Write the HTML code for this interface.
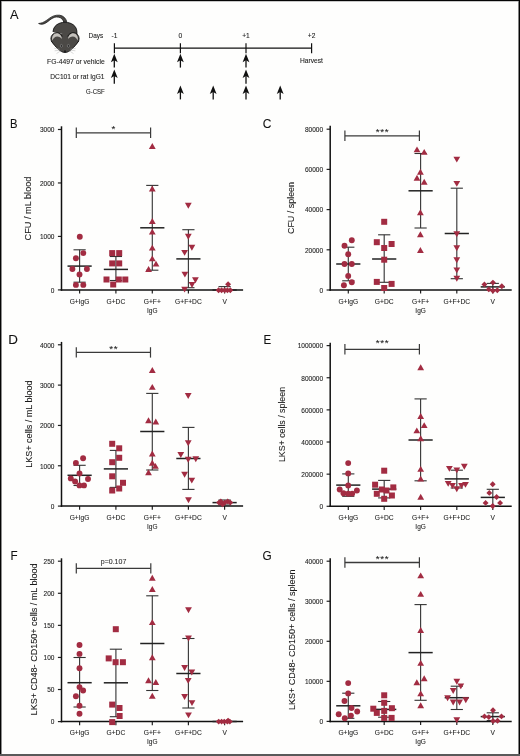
<!DOCTYPE html>
<html><head><meta charset="utf-8"><title>Figure</title>
<style>
html,body{margin:0;padding:0;background:#fff;}
body{width:520px;height:756px;overflow:hidden;}
svg{display:block;font-family:"Liberation Sans", sans-serif;will-change:transform;}
text{stroke:#1a1a1a;stroke-width:0.09px;}
</style></head>
<body>
<svg width="520" height="756" viewBox="0 0 520 756">
<rect x="0" y="0" width="520" height="756" fill="#fefefd"/>
<text x="10" y="18.8" font-size="12.8" text-anchor="start" fill="#111" >A</text>
<g>
<path d="M38.6 23.5 C40.6 24.8 43.2 24.5 45.8 23 C48.4 21.4 51.2 18.4 54.3 17.4 C57.2 16.6 60.4 17 62.4 19.4 C63 20.2 63.4 21 63.7 22 L66.8 21.8 C66 18.6 63.6 15.7 59.6 15.2 C55.6 14.8 52.2 16.1 49.2 18.4 C46.2 20.7 43.2 22.8 40.4 23.2 Z" fill="#4b4946" stroke="#111" stroke-width="0.7" stroke-linejoin="round"/>
<path d="M53.1 32 C53.1 26 58.5 22.3 65 22.3 C71.5 22.3 76.9 26 76.9 32 L77 37" fill="#4b4946" stroke="#111" stroke-width="0.9"/>
<rect x="58" y="34" width="14" height="8" fill="#4b4946"/>
<circle cx="56.8" cy="38.6" r="5.9" fill="#4b4946" stroke="#111" stroke-width="0.9"/>
<circle cx="73.2" cy="38.6" r="5.9" fill="#4b4946" stroke="#111" stroke-width="0.9"/>
<path d="M51.6 41.4 C53.6 44.4 55.8 47 58.4 49.3 C60.4 51.1 62.6 52.5 65 52.5 C67.4 52.5 69.6 51.1 71.6 49.3 C74.2 47 76.4 44.4 78.4 41.4 L68 36.6 L62 36.6 Z" fill="#4b4946"/>
<path d="M51.4 41.1 C53.6 44.4 55.8 47 58.4 49.3 C60.4 51.1 62.6 52.5 65 52.5 C67.4 52.5 69.6 51.1 71.6 49.3 C74.2 47 76.4 44.4 78.6 41.1" fill="none" stroke="#111" stroke-width="0.9"/>
<path d="M52.2 40.6 C51.5 36.5 53.6 33.3 56.8 33.2 C59.5 33.2 61.6 35.5 62 39 C60.9 37.4 59.2 36.4 57.2 36.4 C55 36.4 53.2 38.1 52.2 40.6 Z" fill="#c4c1bc"/>
<path d="M77.8 40.6 C78.5 36.5 76.4 33.3 73.2 33.2 C70.5 33.2 68.4 35.5 68 39 C69.1 37.4 70.8 36.4 72.8 36.4 C75 36.4 76.8 38.1 77.8 40.6 Z" fill="#c4c1bc"/>
<ellipse cx="61.4" cy="45.9" rx="1.05" ry="1.5" fill="#262626" stroke="#9a9a9a" stroke-width="0.5"/>
<ellipse cx="68.4" cy="45.9" rx="1.05" ry="1.5" fill="#262626" stroke="#9a9a9a" stroke-width="0.5"/>
<circle cx="65" cy="51.2" r="0.85" fill="#111"/>
<line x1="59.5" y1="49.2" x2="54.3" y2="48.2" stroke="#b5b5b5" stroke-width="0.5"/>
<line x1="59.8" y1="50.2" x2="54.6" y2="50.8" stroke="#b5b5b5" stroke-width="0.5"/>
<line x1="60.4" y1="51" x2="56.5" y2="53.6" stroke="#b5b5b5" stroke-width="0.5"/>
<line x1="70.5" y1="49.2" x2="75.7" y2="48.2" stroke="#b5b5b5" stroke-width="0.5"/>
<line x1="70.2" y1="50.2" x2="75.4" y2="50.8" stroke="#b5b5b5" stroke-width="0.5"/>
<line x1="69.6" y1="51" x2="73.5" y2="53.6" stroke="#b5b5b5" stroke-width="0.5"/>
</g>
<line x1="114.4" y1="48.1" x2="311.6" y2="48.1" stroke="#111" stroke-width="1.3"/>
<line x1="114.4" y1="43.2" x2="114.4" y2="53.3" stroke="#111" stroke-width="1.2"/>
<line x1="180.4" y1="43.2" x2="180.4" y2="53.3" stroke="#111" stroke-width="1.2"/>
<line x1="246" y1="43.2" x2="246" y2="53.3" stroke="#111" stroke-width="1.2"/>
<line x1="311.6" y1="43.2" x2="311.6" y2="53.3" stroke="#111" stroke-width="1.2"/>
<text x="0" y="0" font-size="7.0" text-anchor="middle" fill="#222" transform="translate(95.9,37.7) scale(0.92,1)" >Days</text>
<text x="0" y="0" font-size="7.0" text-anchor="middle" fill="#222" transform="translate(114.4,37.7) scale(0.95,1)" >-1</text>
<text x="0" y="0" font-size="7.0" text-anchor="middle" fill="#222" transform="translate(180.4,37.7) scale(0.95,1)" >0</text>
<text x="0" y="0" font-size="7.0" text-anchor="middle" fill="#222" transform="translate(246,37.7) scale(0.95,1)" >+1</text>
<text x="0" y="0" font-size="7.0" text-anchor="middle" fill="#222" transform="translate(311.6,37.7) scale(0.95,1)" >+2</text>
<text x="0" y="0" font-size="7.1" text-anchor="middle" fill="#222" transform="translate(311.5,63.2) scale(0.94,1)" >Harvest</text>
<text x="0" y="0" font-size="7.1" text-anchor="end" fill="#222" transform="translate(104.7,63.5) scale(0.956,1)" >FG-4497 or vehicle</text>
<text x="0" y="0" font-size="7.1" text-anchor="end" fill="#222" transform="translate(104.5,78.9) scale(0.936,1)" >DC101 or rat IgG1</text>
<text x="0" y="0" font-size="7.1" text-anchor="end" fill="#222" transform="translate(104.7,94.3) scale(0.85,1)" >G-CSF</text>
<path d="M114.3 53.8 L117.7 62.2 L114.3 60.2 L110.9 62.2 Z" fill="#111"/>
<line x1="114.3" y1="57.8" x2="114.3" y2="67.6" stroke="#111" stroke-width="1.3"/>
<path d="M180.4 53.8 L183.8 62.2 L180.4 60.2 L177 62.2 Z" fill="#111"/>
<line x1="180.4" y1="57.8" x2="180.4" y2="67.6" stroke="#111" stroke-width="1.3"/>
<path d="M246 53.8 L249.4 62.2 L246 60.2 L242.6 62.2 Z" fill="#111"/>
<line x1="246" y1="57.8" x2="246" y2="67.6" stroke="#111" stroke-width="1.3"/>
<path d="M114.3 69.5 L117.7 77.9 L114.3 75.9 L110.9 77.9 Z" fill="#111"/>
<line x1="114.3" y1="73.5" x2="114.3" y2="83.8" stroke="#111" stroke-width="1.3"/>
<path d="M246 69.5 L249.4 77.9 L246 75.9 L242.6 77.9 Z" fill="#111"/>
<line x1="246" y1="73.5" x2="246" y2="83.8" stroke="#111" stroke-width="1.3"/>
<path d="M180.4 85.5 L183.8 93.9 L180.4 91.9 L177 93.9 Z" fill="#111"/>
<line x1="180.4" y1="89.5" x2="180.4" y2="99.4" stroke="#111" stroke-width="1.3"/>
<path d="M213.2 85.5 L216.6 93.9 L213.2 91.9 L209.8 93.9 Z" fill="#111"/>
<line x1="213.2" y1="89.5" x2="213.2" y2="99.4" stroke="#111" stroke-width="1.3"/>
<path d="M246 85.5 L249.4 93.9 L246 91.9 L242.6 93.9 Z" fill="#111"/>
<line x1="246" y1="89.5" x2="246" y2="99.4" stroke="#111" stroke-width="1.3"/>
<path d="M280.2 85.5 L283.6 93.9 L280.2 91.9 L276.8 93.9 Z" fill="#111"/>
<line x1="280.2" y1="89.5" x2="280.2" y2="99.4" stroke="#111" stroke-width="1.3"/>
<text x="0" y="0" font-size="13.4" text-anchor="start" fill="#111" transform="translate(10,128.3) scale(0.84,1)" >B</text>
<text x="0" y="0" font-size="9.7" text-anchor="middle" fill="#1a1a1a" transform="translate(31,208.5) rotate(-90) scale(0.947,1)">CFU / mL blood</text>
<line x1="57.9" y1="289.9" x2="61.5" y2="289.9" stroke="#222" stroke-width="1.2"/>
<text x="0" y="0" font-size="7.3" text-anchor="end" fill="#222" transform="translate(54.4,292.75) scale(0.895,1)" >0</text>
<line x1="57.9" y1="236.43" x2="61.5" y2="236.43" stroke="#222" stroke-width="1.2"/>
<text x="0" y="0" font-size="7.3" text-anchor="end" fill="#222" transform="translate(54.4,239.28) scale(0.895,1)" >1000</text>
<line x1="57.9" y1="182.96" x2="61.5" y2="182.96" stroke="#222" stroke-width="1.2"/>
<text x="0" y="0" font-size="7.3" text-anchor="end" fill="#222" transform="translate(54.4,185.81) scale(0.895,1)" >2000</text>
<line x1="57.9" y1="129.49" x2="61.5" y2="129.49" stroke="#222" stroke-width="1.2"/>
<text x="0" y="0" font-size="7.3" text-anchor="end" fill="#222" transform="translate(54.4,132.34) scale(0.895,1)" >3000</text>
<line x1="79.6" y1="289.9" x2="79.6" y2="293.5" stroke="#222" stroke-width="1.2"/>
<line x1="115.9" y1="289.9" x2="115.9" y2="293.5" stroke="#222" stroke-width="1.2"/>
<line x1="152.3" y1="289.9" x2="152.3" y2="293.5" stroke="#222" stroke-width="1.2"/>
<line x1="188.4" y1="289.9" x2="188.4" y2="293.5" stroke="#222" stroke-width="1.2"/>
<line x1="224.6" y1="289.9" x2="224.6" y2="293.5" stroke="#222" stroke-width="1.2"/>
<text x="0" y="0" font-size="7.5" text-anchor="middle" fill="#222" transform="translate(79.6,303.7) scale(0.89,1)" >G+IgG</text>
<text x="0" y="0" font-size="7.5" text-anchor="middle" fill="#222" transform="translate(115.9,303.7) scale(0.89,1)" >G+DC</text>
<text x="0" y="0" font-size="7.5" text-anchor="middle" fill="#222" transform="translate(152.3,303.7) scale(0.895,1)" >G+F+</text>
<text x="0" y="0" font-size="7.5" text-anchor="middle" fill="#222" transform="translate(152.3,312.7) scale(0.87,1)" >IgG</text>
<text x="0" y="0" font-size="7.5" text-anchor="middle" fill="#222" transform="translate(188.4,303.7) scale(0.89,1)" >G+F+DC</text>
<text x="0" y="0" font-size="7.5" text-anchor="middle" fill="#222" transform="translate(224.6,303.7) scale(0.89,1)" >V</text>
<line x1="61.5" y1="126.3" x2="61.5" y2="290.65" stroke="#111" stroke-width="1.5"/>
<line x1="60.75" y1="289.9" x2="243.1" y2="289.9" stroke="#111" stroke-width="1.5"/>
<line x1="79.6" y1="249.8" x2="79.6" y2="282.2" stroke="#3a3a3a" stroke-width="1.15"/>
<line x1="73.5" y1="249.8" x2="85.7" y2="249.8" stroke="#333" stroke-width="1.1"/>
<line x1="73.5" y1="282.2" x2="85.7" y2="282.2" stroke="#333" stroke-width="1.1"/>
<line x1="67.5" y1="266.1" x2="91.7" y2="266.1" stroke="#222" stroke-width="1.5"/>
<line x1="115.9" y1="256.5" x2="115.9" y2="280.5" stroke="#3a3a3a" stroke-width="1.15"/>
<line x1="109.8" y1="256.5" x2="122" y2="256.5" stroke="#333" stroke-width="1.1"/>
<line x1="109.8" y1="280.5" x2="122" y2="280.5" stroke="#333" stroke-width="1.1"/>
<line x1="103.8" y1="269.4" x2="128" y2="269.4" stroke="#222" stroke-width="1.5"/>
<line x1="152.3" y1="185.4" x2="152.3" y2="270.2" stroke="#3a3a3a" stroke-width="1.15"/>
<line x1="146.2" y1="185.4" x2="158.4" y2="185.4" stroke="#333" stroke-width="1.1"/>
<line x1="146.2" y1="270.2" x2="158.4" y2="270.2" stroke="#333" stroke-width="1.1"/>
<line x1="140.2" y1="227.8" x2="164.4" y2="227.8" stroke="#222" stroke-width="1.5"/>
<line x1="188.4" y1="229.7" x2="188.4" y2="287.7" stroke="#3a3a3a" stroke-width="1.15"/>
<line x1="182.3" y1="229.7" x2="194.5" y2="229.7" stroke="#333" stroke-width="1.1"/>
<line x1="182.3" y1="287.7" x2="194.5" y2="287.7" stroke="#333" stroke-width="1.1"/>
<line x1="176.3" y1="258.9" x2="200.5" y2="258.9" stroke="#222" stroke-width="1.5"/>
<line x1="224.6" y1="286.6" x2="224.6" y2="290" stroke="#3a3a3a" stroke-width="1.15"/>
<line x1="218.5" y1="286.6" x2="230.7" y2="286.6" stroke="#333" stroke-width="1.1"/>
<line x1="218.5" y1="290" x2="230.7" y2="290" stroke="#333" stroke-width="1.1"/>
<line x1="212.5" y1="290" x2="236.7" y2="290" stroke="#222" stroke-width="1.5"/>
<circle cx="79.8" cy="236.7" r="2.95" fill="#a22c42"/>
<circle cx="83.3" cy="253.1" r="2.95" fill="#a22c42"/>
<circle cx="75.9" cy="258.3" r="2.95" fill="#a22c42"/>
<circle cx="72.4" cy="269" r="2.95" fill="#a22c42"/>
<circle cx="86.9" cy="269" r="2.95" fill="#a22c42"/>
<circle cx="79.5" cy="274.4" r="2.95" fill="#a22c42"/>
<circle cx="75.9" cy="284.9" r="2.95" fill="#a22c42"/>
<circle cx="83.3" cy="284.9" r="2.95" fill="#a22c42"/>
<rect x="109.2" y="250.1" width="6.0" height="6.0" fill="#a22c42"/>
<rect x="116.2" y="250.1" width="6.0" height="6.0" fill="#a22c42"/>
<rect x="109.2" y="260.4" width="6.0" height="6.0" fill="#a22c42"/>
<rect x="116.2" y="260.4" width="6.0" height="6.0" fill="#a22c42"/>
<rect x="103.5" y="276.5" width="6.0" height="6.0" fill="#a22c42"/>
<rect x="115.8" y="276.5" width="6.0" height="6.0" fill="#a22c42"/>
<rect x="122.3" y="276.5" width="6.0" height="6.0" fill="#a22c42"/>
<rect x="110.2" y="281.5" width="6.0" height="6.0" fill="#a22c42"/>
<path d="M152.3 143.05L155.7 148.95L148.9 148.95Z" fill="#a22c42"/>
<path d="M152.3 185.55L155.7 191.45L148.9 191.45Z" fill="#a22c42"/>
<path d="M152.3 218.05L155.7 223.95L148.9 223.95Z" fill="#a22c42"/>
<path d="M152.3 228.65L155.7 234.55L148.9 234.55Z" fill="#a22c42"/>
<path d="M152.3 244.65L155.7 250.55L148.9 250.55Z" fill="#a22c42"/>
<path d="M152.3 255.45L155.7 261.35L148.9 261.35Z" fill="#a22c42"/>
<path d="M156 260.65L159.4 266.55L152.6 266.55Z" fill="#a22c42"/>
<path d="M148.6 266.05L152 271.95L145.2 271.95Z" fill="#a22c42"/>
<path d="M184.9 202.75L191.7 202.75L188.3 208.65Z" fill="#a22c42"/>
<path d="M184.9 233.75L191.7 233.75L188.3 239.65Z" fill="#a22c42"/>
<path d="M188.5 244.75L195.3 244.75L191.9 250.65Z" fill="#a22c42"/>
<path d="M181.2 249.95L188 249.95L184.6 255.85Z" fill="#a22c42"/>
<path d="M181.5 271.65L188.3 271.65L184.9 277.55Z" fill="#a22c42"/>
<path d="M192 277.25L198.8 277.25L195.4 283.15Z" fill="#a22c42"/>
<path d="M188.6 282.05L195.4 282.05L192 287.95Z" fill="#a22c42"/>
<path d="M181.2 286.65L188 286.65L184.6 292.55Z" fill="#a22c42"/>
<path d="M218.6 287.25L221.55 290.2L218.6 293.15L215.65 290.2Z" fill="#a22c42"/>
<path d="M221.6 287.35L224.55 290.3L221.6 293.25L218.65 290.3Z" fill="#a22c42"/>
<path d="M224.6 287.35L227.55 290.3L224.6 293.25L221.65 290.3Z" fill="#a22c42"/>
<path d="M227.4 287.25L230.35 290.2L227.4 293.15L224.45 290.2Z" fill="#a22c42"/>
<path d="M230.3 287.25L233.25 290.2L230.3 293.15L227.35 290.2Z" fill="#a22c42"/>
<path d="M228.1 281.35L231.05 284.3L228.1 287.25L225.15 284.3Z" fill="#a22c42"/>
<line x1="76.3" y1="132.8" x2="150.6" y2="132.8" stroke="#3a3a3a" stroke-width="1.3"/>
<line x1="76.3" y1="127.6" x2="76.3" y2="138" stroke="#3a3a3a" stroke-width="1.2"/>
<line x1="150.6" y1="127.6" x2="150.6" y2="138" stroke="#3a3a3a" stroke-width="1.2"/>
<text x="113.85" y="132.1" font-size="9.8" text-anchor="middle" fill="#222" letter-spacing="0.75">*</text>
<text x="0" y="0" font-size="13.4" text-anchor="start" fill="#111" transform="translate(262.8,128.4) scale(0.9,1)" >C</text>
<text x="0" y="0" font-size="9.7" text-anchor="middle" fill="#1a1a1a" transform="translate(293.7,208) rotate(-90) scale(0.921,1)">CFU / spleen</text>
<line x1="326.6" y1="290" x2="330.2" y2="290" stroke="#222" stroke-width="1.2"/>
<text x="0" y="0" font-size="7.3" text-anchor="end" fill="#222" transform="translate(323.1,292.85) scale(0.895,1)" >0</text>
<line x1="326.6" y1="249.8" x2="330.2" y2="249.8" stroke="#222" stroke-width="1.2"/>
<text x="0" y="0" font-size="7.3" text-anchor="end" fill="#222" transform="translate(323.1,252.65) scale(0.895,1)" >20000</text>
<line x1="326.6" y1="209.6" x2="330.2" y2="209.6" stroke="#222" stroke-width="1.2"/>
<text x="0" y="0" font-size="7.3" text-anchor="end" fill="#222" transform="translate(323.1,212.45) scale(0.895,1)" >40000</text>
<line x1="326.6" y1="169.4" x2="330.2" y2="169.4" stroke="#222" stroke-width="1.2"/>
<text x="0" y="0" font-size="7.3" text-anchor="end" fill="#222" transform="translate(323.1,172.25) scale(0.895,1)" >60000</text>
<line x1="326.6" y1="129.2" x2="330.2" y2="129.2" stroke="#222" stroke-width="1.2"/>
<text x="0" y="0" font-size="7.3" text-anchor="end" fill="#222" transform="translate(323.1,132.05) scale(0.895,1)" >80000</text>
<line x1="348.3" y1="290" x2="348.3" y2="293.6" stroke="#222" stroke-width="1.2"/>
<line x1="384.2" y1="290" x2="384.2" y2="293.6" stroke="#222" stroke-width="1.2"/>
<line x1="420.6" y1="290" x2="420.6" y2="293.6" stroke="#222" stroke-width="1.2"/>
<line x1="456.8" y1="290" x2="456.8" y2="293.6" stroke="#222" stroke-width="1.2"/>
<line x1="492.8" y1="290" x2="492.8" y2="293.6" stroke="#222" stroke-width="1.2"/>
<text x="0" y="0" font-size="7.5" text-anchor="middle" fill="#222" transform="translate(348.3,303.8) scale(0.89,1)" >G+IgG</text>
<text x="0" y="0" font-size="7.5" text-anchor="middle" fill="#222" transform="translate(384.2,303.8) scale(0.89,1)" >G+DC</text>
<text x="0" y="0" font-size="7.5" text-anchor="middle" fill="#222" transform="translate(420.6,303.8) scale(0.895,1)" >G+F+</text>
<text x="0" y="0" font-size="7.5" text-anchor="middle" fill="#222" transform="translate(420.6,312.8) scale(0.87,1)" >IgG</text>
<text x="0" y="0" font-size="7.5" text-anchor="middle" fill="#222" transform="translate(456.8,303.8) scale(0.89,1)" >G+F+DC</text>
<text x="0" y="0" font-size="7.5" text-anchor="middle" fill="#222" transform="translate(492.8,303.8) scale(0.89,1)" >V</text>
<line x1="330.2" y1="125.8" x2="330.2" y2="290.75" stroke="#111" stroke-width="1.5"/>
<line x1="329.45" y1="290" x2="511.7" y2="290" stroke="#111" stroke-width="1.5"/>
<line x1="348.3" y1="247.2" x2="348.3" y2="280.8" stroke="#3a3a3a" stroke-width="1.15"/>
<line x1="342.2" y1="247.2" x2="354.4" y2="247.2" stroke="#333" stroke-width="1.1"/>
<line x1="342.2" y1="280.8" x2="354.4" y2="280.8" stroke="#333" stroke-width="1.1"/>
<line x1="336.2" y1="264" x2="360.4" y2="264" stroke="#222" stroke-width="1.5"/>
<line x1="384.2" y1="234.8" x2="384.2" y2="282.3" stroke="#3a3a3a" stroke-width="1.15"/>
<line x1="378.1" y1="234.8" x2="390.3" y2="234.8" stroke="#333" stroke-width="1.1"/>
<line x1="378.1" y1="282.3" x2="390.3" y2="282.3" stroke="#333" stroke-width="1.1"/>
<line x1="372.1" y1="259" x2="396.3" y2="259" stroke="#222" stroke-width="1.5"/>
<line x1="420.6" y1="153.5" x2="420.6" y2="228" stroke="#3a3a3a" stroke-width="1.15"/>
<line x1="414.5" y1="153.5" x2="426.7" y2="153.5" stroke="#333" stroke-width="1.1"/>
<line x1="414.5" y1="228" x2="426.7" y2="228" stroke="#333" stroke-width="1.1"/>
<line x1="408.5" y1="190.8" x2="432.7" y2="190.8" stroke="#222" stroke-width="1.5"/>
<line x1="456.8" y1="188.2" x2="456.8" y2="278.7" stroke="#3a3a3a" stroke-width="1.15"/>
<line x1="450.7" y1="188.2" x2="462.9" y2="188.2" stroke="#333" stroke-width="1.1"/>
<line x1="450.7" y1="278.7" x2="462.9" y2="278.7" stroke="#333" stroke-width="1.1"/>
<line x1="444.7" y1="233.5" x2="468.9" y2="233.5" stroke="#222" stroke-width="1.5"/>
<line x1="492.8" y1="283.4" x2="492.8" y2="290" stroke="#3a3a3a" stroke-width="1.15"/>
<line x1="486.7" y1="283.4" x2="498.9" y2="283.4" stroke="#333" stroke-width="1.1"/>
<line x1="486.7" y1="290" x2="498.9" y2="290" stroke="#333" stroke-width="1.1"/>
<line x1="480.7" y1="286.9" x2="504.9" y2="286.9" stroke="#222" stroke-width="1.5"/>
<circle cx="351.8" cy="240.2" r="2.95" fill="#a22c42"/>
<circle cx="344.5" cy="245.8" r="2.95" fill="#a22c42"/>
<circle cx="348.2" cy="254.3" r="2.95" fill="#a22c42"/>
<circle cx="344.5" cy="264" r="2.95" fill="#a22c42"/>
<circle cx="351.8" cy="264" r="2.95" fill="#a22c42"/>
<circle cx="348.2" cy="275.9" r="2.95" fill="#a22c42"/>
<circle cx="351.8" cy="282.2" r="2.95" fill="#a22c42"/>
<circle cx="343.9" cy="285.3" r="2.95" fill="#a22c42"/>
<rect x="381.2" y="218.8" width="6.0" height="6.0" fill="#a22c42"/>
<rect x="373.8" y="239.2" width="6.0" height="6.0" fill="#a22c42"/>
<rect x="388.6" y="241" width="6.0" height="6.0" fill="#a22c42"/>
<rect x="381.2" y="245" width="6.0" height="6.0" fill="#a22c42"/>
<rect x="381.2" y="256.7" width="6.0" height="6.0" fill="#a22c42"/>
<rect x="373.8" y="278.9" width="6.0" height="6.0" fill="#a22c42"/>
<rect x="388.6" y="280.9" width="6.0" height="6.0" fill="#a22c42"/>
<rect x="381.2" y="285" width="6.0" height="6.0" fill="#a22c42"/>
<path d="M417 146.45L420.4 152.35L413.6 152.35Z" fill="#a22c42"/>
<path d="M424.2 148.95L427.6 154.85L420.8 154.85Z" fill="#a22c42"/>
<path d="M420.4 168.85L423.8 174.75L417 174.75Z" fill="#a22c42"/>
<path d="M417 174.85L420.4 180.75L413.6 180.75Z" fill="#a22c42"/>
<path d="M424.2 178.75L427.6 184.65L420.8 184.65Z" fill="#a22c42"/>
<path d="M420.4 209.25L423.8 215.15L417 215.15Z" fill="#a22c42"/>
<path d="M420.4 231.25L423.8 237.15L417 237.15Z" fill="#a22c42"/>
<path d="M420.4 247.05L423.8 252.95L417 252.95Z" fill="#a22c42"/>
<path d="M453.4 156.65L460.2 156.65L456.8 162.55Z" fill="#a22c42"/>
<path d="M453.4 180.95L460.2 180.95L456.8 186.85Z" fill="#a22c42"/>
<path d="M453.4 231.25L460.2 231.25L456.8 237.15Z" fill="#a22c42"/>
<path d="M453.4 245.25L460.2 245.25L456.8 251.15Z" fill="#a22c42"/>
<path d="M453.4 257.35L460.2 257.35L456.8 263.25Z" fill="#a22c42"/>
<path d="M453.4 267.45L460.2 267.45L456.8 273.35Z" fill="#a22c42"/>
<path d="M453.4 275.85L460.2 275.85L456.8 281.75Z" fill="#a22c42"/>
<path d="M484.4 281.45L487.35 284.4L484.4 287.35L481.45 284.4Z" fill="#a22c42"/>
<path d="M492.9 279.65L495.85 282.6L492.9 285.55L489.95 282.6Z" fill="#a22c42"/>
<path d="M501.8 283.35L504.75 286.3L501.8 289.25L498.85 286.3Z" fill="#a22c42"/>
<path d="M488.8 286.45L491.75 289.4L488.8 292.35L485.85 289.4Z" fill="#a22c42"/>
<path d="M492.9 287.75L495.85 290.7L492.9 293.65L489.95 290.7Z" fill="#a22c42"/>
<path d="M497.3 287.35L500.25 290.3L497.3 293.25L494.35 290.3Z" fill="#a22c42"/>
<line x1="344.9" y1="135.8" x2="419.4" y2="135.8" stroke="#3a3a3a" stroke-width="1.3"/>
<line x1="344.9" y1="130.6" x2="344.9" y2="141" stroke="#3a3a3a" stroke-width="1.2"/>
<line x1="419.4" y1="130.6" x2="419.4" y2="141" stroke="#3a3a3a" stroke-width="1.2"/>
<text x="382.55" y="135.1" font-size="9.8" text-anchor="middle" fill="#222" letter-spacing="0.75">***</text>
<text x="8.2" y="343.8" font-size="13.4" text-anchor="start" fill="#111" >D</text>
<text x="0" y="0" font-size="9.7" text-anchor="middle" fill="#1a1a1a" transform="translate(31.8,424.1) rotate(-90) scale(0.935,1)">LKS+ cells / mL blood</text>
<line x1="57.9" y1="506.1" x2="61.5" y2="506.1" stroke="#222" stroke-width="1.2"/>
<text x="0" y="0" font-size="7.3" text-anchor="end" fill="#222" transform="translate(54.4,508.95) scale(0.895,1)" >0</text>
<line x1="57.9" y1="465.77" x2="61.5" y2="465.77" stroke="#222" stroke-width="1.2"/>
<text x="0" y="0" font-size="7.3" text-anchor="end" fill="#222" transform="translate(54.4,468.62) scale(0.895,1)" >1000</text>
<line x1="57.9" y1="425.44" x2="61.5" y2="425.44" stroke="#222" stroke-width="1.2"/>
<text x="0" y="0" font-size="7.3" text-anchor="end" fill="#222" transform="translate(54.4,428.29) scale(0.895,1)" >2000</text>
<line x1="57.9" y1="385.11" x2="61.5" y2="385.11" stroke="#222" stroke-width="1.2"/>
<text x="0" y="0" font-size="7.3" text-anchor="end" fill="#222" transform="translate(54.4,387.96) scale(0.895,1)" >3000</text>
<line x1="57.9" y1="344.78" x2="61.5" y2="344.78" stroke="#222" stroke-width="1.2"/>
<text x="0" y="0" font-size="7.3" text-anchor="end" fill="#222" transform="translate(54.4,347.63) scale(0.895,1)" >4000</text>
<line x1="79.6" y1="506.1" x2="79.6" y2="509.7" stroke="#222" stroke-width="1.2"/>
<line x1="115.9" y1="506.1" x2="115.9" y2="509.7" stroke="#222" stroke-width="1.2"/>
<line x1="152.3" y1="506.1" x2="152.3" y2="509.7" stroke="#222" stroke-width="1.2"/>
<line x1="188.4" y1="506.1" x2="188.4" y2="509.7" stroke="#222" stroke-width="1.2"/>
<line x1="224.6" y1="506.1" x2="224.6" y2="509.7" stroke="#222" stroke-width="1.2"/>
<text x="0" y="0" font-size="7.5" text-anchor="middle" fill="#222" transform="translate(79.6,519.9) scale(0.89,1)" >G+IgG</text>
<text x="0" y="0" font-size="7.5" text-anchor="middle" fill="#222" transform="translate(115.9,519.9) scale(0.89,1)" >G+DC</text>
<text x="0" y="0" font-size="7.5" text-anchor="middle" fill="#222" transform="translate(152.3,519.9) scale(0.895,1)" >G+F+</text>
<text x="0" y="0" font-size="7.5" text-anchor="middle" fill="#222" transform="translate(152.3,528.9) scale(0.87,1)" >IgG</text>
<text x="0" y="0" font-size="7.5" text-anchor="middle" fill="#222" transform="translate(188.4,519.9) scale(0.89,1)" >G+F+DC</text>
<text x="0" y="0" font-size="7.5" text-anchor="middle" fill="#222" transform="translate(224.6,519.9) scale(0.89,1)" >V</text>
<line x1="61.5" y1="341.9" x2="61.5" y2="506.85" stroke="#111" stroke-width="1.5"/>
<line x1="60.75" y1="506.1" x2="243.1" y2="506.1" stroke="#111" stroke-width="1.5"/>
<line x1="79.6" y1="465.3" x2="79.6" y2="485.5" stroke="#3a3a3a" stroke-width="1.15"/>
<line x1="73.5" y1="465.3" x2="85.7" y2="465.3" stroke="#333" stroke-width="1.1"/>
<line x1="73.5" y1="485.5" x2="85.7" y2="485.5" stroke="#333" stroke-width="1.1"/>
<line x1="67.5" y1="475.3" x2="91.7" y2="475.3" stroke="#222" stroke-width="1.5"/>
<line x1="115.9" y1="450.4" x2="115.9" y2="487.4" stroke="#3a3a3a" stroke-width="1.15"/>
<line x1="109.8" y1="450.4" x2="122" y2="450.4" stroke="#333" stroke-width="1.1"/>
<line x1="109.8" y1="487.4" x2="122" y2="487.4" stroke="#333" stroke-width="1.1"/>
<line x1="103.8" y1="468.9" x2="128" y2="468.9" stroke="#222" stroke-width="1.5"/>
<line x1="152.3" y1="393.4" x2="152.3" y2="470" stroke="#3a3a3a" stroke-width="1.15"/>
<line x1="146.2" y1="393.4" x2="158.4" y2="393.4" stroke="#333" stroke-width="1.1"/>
<line x1="146.2" y1="470" x2="158.4" y2="470" stroke="#333" stroke-width="1.1"/>
<line x1="140.2" y1="431.5" x2="164.4" y2="431.5" stroke="#222" stroke-width="1.5"/>
<line x1="188.4" y1="427.4" x2="188.4" y2="489.4" stroke="#3a3a3a" stroke-width="1.15"/>
<line x1="182.3" y1="427.4" x2="194.5" y2="427.4" stroke="#333" stroke-width="1.1"/>
<line x1="182.3" y1="489.4" x2="194.5" y2="489.4" stroke="#333" stroke-width="1.1"/>
<line x1="176.3" y1="458.5" x2="200.5" y2="458.5" stroke="#222" stroke-width="1.5"/>
<line x1="224.6" y1="500" x2="224.6" y2="505" stroke="#3a3a3a" stroke-width="1.15"/>
<line x1="218.5" y1="500" x2="230.7" y2="500" stroke="#333" stroke-width="1.1"/>
<line x1="218.5" y1="505" x2="230.7" y2="505" stroke="#333" stroke-width="1.1"/>
<line x1="212.5" y1="502.6" x2="236.7" y2="502.6" stroke="#222" stroke-width="1.5"/>
<circle cx="83.1" cy="458.2" r="2.95" fill="#a22c42"/>
<circle cx="75.9" cy="462.9" r="2.95" fill="#a22c42"/>
<circle cx="79.5" cy="473.4" r="2.95" fill="#a22c42"/>
<circle cx="70.8" cy="478.4" r="2.95" fill="#a22c42"/>
<circle cx="88" cy="479" r="2.95" fill="#a22c42"/>
<circle cx="75.1" cy="481.5" r="2.95" fill="#a22c42"/>
<circle cx="79.5" cy="485.4" r="2.95" fill="#a22c42"/>
<circle cx="84" cy="485.4" r="2.95" fill="#a22c42"/>
<rect x="109.2" y="440.8" width="6.0" height="6.0" fill="#a22c42"/>
<rect x="116.2" y="445.3" width="6.0" height="6.0" fill="#a22c42"/>
<rect x="116.2" y="454.8" width="6.0" height="6.0" fill="#a22c42"/>
<rect x="109.2" y="459.2" width="6.0" height="6.0" fill="#a22c42"/>
<rect x="109.2" y="473.3" width="6.0" height="6.0" fill="#a22c42"/>
<rect x="120" y="479.8" width="6.0" height="6.0" fill="#a22c42"/>
<rect x="116.2" y="485.5" width="6.0" height="6.0" fill="#a22c42"/>
<rect x="109.2" y="487.5" width="6.0" height="6.0" fill="#a22c42"/>
<path d="M152.3 367.05L155.7 372.95L148.9 372.95Z" fill="#a22c42"/>
<path d="M152.3 383.95L155.7 389.85L148.9 389.85Z" fill="#a22c42"/>
<path d="M148.5 417.25L151.9 423.15L145.1 423.15Z" fill="#a22c42"/>
<path d="M155.8 418.55L159.2 424.45L152.4 424.45Z" fill="#a22c42"/>
<path d="M152.3 450.55L155.7 456.45L148.9 456.45Z" fill="#a22c42"/>
<path d="M152.3 459.85L155.7 465.75L148.9 465.75Z" fill="#a22c42"/>
<path d="M155.4 462.95L158.8 468.85L152 468.85Z" fill="#a22c42"/>
<path d="M148.5 469.35L151.9 475.25L145.1 475.25Z" fill="#a22c42"/>
<path d="M184.8 393.05L191.6 393.05L188.2 398.95Z" fill="#a22c42"/>
<path d="M184.8 440.25L191.6 440.25L188.2 446.15Z" fill="#a22c42"/>
<path d="M177.4 452.05L184.2 452.05L180.8 457.95Z" fill="#a22c42"/>
<path d="M184.8 456.75L191.6 456.75L188.2 462.65Z" fill="#a22c42"/>
<path d="M192.4 456.25L199.2 456.25L195.8 462.15Z" fill="#a22c42"/>
<path d="M181.2 471.75L188 471.75L184.6 477.65Z" fill="#a22c42"/>
<path d="M188.4 477.65L195.2 477.65L191.8 483.55Z" fill="#a22c42"/>
<path d="M185.1 497.25L191.9 497.25L188.5 503.15Z" fill="#a22c42"/>
<path d="M219 499.65L221.95 502.6L219 505.55L216.05 502.6Z" fill="#a22c42"/>
<path d="M220.8 498.45L223.75 501.4L220.8 504.35L217.85 501.4Z" fill="#a22c42"/>
<path d="M222.6 501.45L225.55 504.4L222.6 507.35L219.65 504.4Z" fill="#a22c42"/>
<path d="M224.8 499.65L227.75 502.6L224.8 505.55L221.85 502.6Z" fill="#a22c42"/>
<path d="M227.7 498.45L230.65 501.4L227.7 504.35L224.75 501.4Z" fill="#a22c42"/>
<path d="M230.3 499.65L233.25 502.6L230.3 505.55L227.35 502.6Z" fill="#a22c42"/>
<line x1="76.3" y1="352.4" x2="150.5" y2="352.4" stroke="#3a3a3a" stroke-width="1.3"/>
<line x1="76.3" y1="347.2" x2="76.3" y2="357.6" stroke="#3a3a3a" stroke-width="1.2"/>
<line x1="150.5" y1="347.2" x2="150.5" y2="357.6" stroke="#3a3a3a" stroke-width="1.2"/>
<text x="113.8" y="351.7" font-size="9.8" text-anchor="middle" fill="#222" letter-spacing="0.75">**</text>
<text x="0" y="0" font-size="13.4" text-anchor="start" fill="#111" transform="translate(263.6,343.8) scale(0.86,1)" >E</text>
<text x="0" y="0" font-size="9.7" text-anchor="middle" fill="#1a1a1a" transform="translate(285.2,424.5) rotate(-90) scale(0.909,1)">LKS+ cells / spleen</text>
<line x1="326.6" y1="506.3" x2="330.2" y2="506.3" stroke="#222" stroke-width="1.2"/>
<text x="0" y="0" font-size="7.3" text-anchor="end" fill="#222" transform="translate(323.1,509.15) scale(0.895,1)" >0</text>
<line x1="326.6" y1="474.16" x2="330.2" y2="474.16" stroke="#222" stroke-width="1.2"/>
<text x="0" y="0" font-size="7.3" text-anchor="end" fill="#222" transform="translate(323.1,477.01) scale(0.895,1)" >200000</text>
<line x1="326.6" y1="442.02" x2="330.2" y2="442.02" stroke="#222" stroke-width="1.2"/>
<text x="0" y="0" font-size="7.3" text-anchor="end" fill="#222" transform="translate(323.1,444.87) scale(0.895,1)" >400000</text>
<line x1="326.6" y1="409.88" x2="330.2" y2="409.88" stroke="#222" stroke-width="1.2"/>
<text x="0" y="0" font-size="7.3" text-anchor="end" fill="#222" transform="translate(323.1,412.73) scale(0.895,1)" >600000</text>
<line x1="326.6" y1="377.74" x2="330.2" y2="377.74" stroke="#222" stroke-width="1.2"/>
<text x="0" y="0" font-size="7.3" text-anchor="end" fill="#222" transform="translate(323.1,380.59) scale(0.895,1)" >800000</text>
<line x1="326.6" y1="345.6" x2="330.2" y2="345.6" stroke="#222" stroke-width="1.2"/>
<text x="0" y="0" font-size="7.3" text-anchor="end" fill="#222" transform="translate(323.1,348.45) scale(0.895,1)" >1000000</text>
<line x1="348.3" y1="506.3" x2="348.3" y2="509.9" stroke="#222" stroke-width="1.2"/>
<line x1="384.2" y1="506.3" x2="384.2" y2="509.9" stroke="#222" stroke-width="1.2"/>
<line x1="420.6" y1="506.3" x2="420.6" y2="509.9" stroke="#222" stroke-width="1.2"/>
<line x1="456.8" y1="506.3" x2="456.8" y2="509.9" stroke="#222" stroke-width="1.2"/>
<line x1="492.8" y1="506.3" x2="492.8" y2="509.9" stroke="#222" stroke-width="1.2"/>
<text x="0" y="0" font-size="7.5" text-anchor="middle" fill="#222" transform="translate(348.3,520.1) scale(0.89,1)" >G+IgG</text>
<text x="0" y="0" font-size="7.5" text-anchor="middle" fill="#222" transform="translate(384.2,520.1) scale(0.89,1)" >G+DC</text>
<text x="0" y="0" font-size="7.5" text-anchor="middle" fill="#222" transform="translate(420.6,520.1) scale(0.895,1)" >G+F+</text>
<text x="0" y="0" font-size="7.5" text-anchor="middle" fill="#222" transform="translate(420.6,529.1) scale(0.87,1)" >IgG</text>
<text x="0" y="0" font-size="7.5" text-anchor="middle" fill="#222" transform="translate(456.8,520.1) scale(0.89,1)" >G+F+DC</text>
<text x="0" y="0" font-size="7.5" text-anchor="middle" fill="#222" transform="translate(492.8,520.1) scale(0.89,1)" >V</text>
<line x1="330.2" y1="342.7" x2="330.2" y2="507.05" stroke="#111" stroke-width="1.5"/>
<line x1="329.45" y1="506.3" x2="511.7" y2="506.3" stroke="#111" stroke-width="1.5"/>
<line x1="348.3" y1="473.9" x2="348.3" y2="496.3" stroke="#3a3a3a" stroke-width="1.15"/>
<line x1="342.2" y1="473.9" x2="354.4" y2="473.9" stroke="#333" stroke-width="1.1"/>
<line x1="342.2" y1="496.3" x2="354.4" y2="496.3" stroke="#333" stroke-width="1.1"/>
<line x1="336.2" y1="485.1" x2="360.4" y2="485.1" stroke="#222" stroke-width="1.5"/>
<line x1="384.2" y1="480.4" x2="384.2" y2="497.9" stroke="#3a3a3a" stroke-width="1.15"/>
<line x1="378.1" y1="480.4" x2="390.3" y2="480.4" stroke="#333" stroke-width="1.1"/>
<line x1="378.1" y1="497.9" x2="390.3" y2="497.9" stroke="#333" stroke-width="1.1"/>
<line x1="372.1" y1="489.1" x2="396.3" y2="489.1" stroke="#222" stroke-width="1.5"/>
<line x1="420.6" y1="398.9" x2="420.6" y2="480.8" stroke="#3a3a3a" stroke-width="1.15"/>
<line x1="414.5" y1="398.9" x2="426.7" y2="398.9" stroke="#333" stroke-width="1.1"/>
<line x1="414.5" y1="480.8" x2="426.7" y2="480.8" stroke="#333" stroke-width="1.1"/>
<line x1="408.5" y1="440" x2="432.7" y2="440" stroke="#222" stroke-width="1.5"/>
<line x1="456.8" y1="470.2" x2="456.8" y2="488" stroke="#3a3a3a" stroke-width="1.15"/>
<line x1="450.7" y1="470.2" x2="462.9" y2="470.2" stroke="#333" stroke-width="1.1"/>
<line x1="450.7" y1="488" x2="462.9" y2="488" stroke="#333" stroke-width="1.1"/>
<line x1="444.7" y1="478.9" x2="468.9" y2="478.9" stroke="#222" stroke-width="1.5"/>
<line x1="492.8" y1="489.3" x2="492.8" y2="506" stroke="#3a3a3a" stroke-width="1.15"/>
<line x1="486.7" y1="489.3" x2="498.9" y2="489.3" stroke="#333" stroke-width="1.1"/>
<line x1="486.7" y1="506" x2="498.9" y2="506" stroke="#333" stroke-width="1.1"/>
<line x1="480.7" y1="497.4" x2="504.9" y2="497.4" stroke="#222" stroke-width="1.5"/>
<circle cx="348.2" cy="463.1" r="2.95" fill="#a22c42"/>
<circle cx="348.2" cy="473.4" r="2.95" fill="#a22c42"/>
<circle cx="348.2" cy="485.5" r="2.95" fill="#a22c42"/>
<circle cx="339.7" cy="489.5" r="2.95" fill="#a22c42"/>
<circle cx="356.9" cy="490.5" r="2.95" fill="#a22c42"/>
<circle cx="343.5" cy="493.2" r="2.95" fill="#a22c42"/>
<circle cx="348.2" cy="493.8" r="2.95" fill="#a22c42"/>
<circle cx="352.2" cy="493.6" r="2.95" fill="#a22c42"/>
<rect x="381.2" y="467.7" width="6.0" height="6.0" fill="#a22c42"/>
<rect x="372.1" y="481.7" width="6.0" height="6.0" fill="#a22c42"/>
<rect x="390.3" y="484.4" width="6.0" height="6.0" fill="#a22c42"/>
<rect x="378.8" y="486.5" width="6.0" height="6.0" fill="#a22c42"/>
<rect x="383.5" y="487.5" width="6.0" height="6.0" fill="#a22c42"/>
<rect x="373.8" y="490.8" width="6.0" height="6.0" fill="#a22c42"/>
<rect x="388.9" y="492.5" width="6.0" height="6.0" fill="#a22c42"/>
<rect x="381.2" y="495.8" width="6.0" height="6.0" fill="#a22c42"/>
<path d="M420.7 364.25L424.1 370.15L417.3 370.15Z" fill="#a22c42"/>
<path d="M420.7 413.05L424.1 418.95L417.3 418.95Z" fill="#a22c42"/>
<path d="M424.2 422.15L427.6 428.05L420.8 428.05Z" fill="#a22c42"/>
<path d="M416.8 427.45L420.2 433.35L413.4 433.35Z" fill="#a22c42"/>
<path d="M420.7 435.35L424.1 441.25L417.3 441.25Z" fill="#a22c42"/>
<path d="M420.7 465.95L424.1 471.85L417.3 471.85Z" fill="#a22c42"/>
<path d="M420.7 475.65L424.1 481.55L417.3 481.55Z" fill="#a22c42"/>
<path d="M420.7 493.85L424.1 499.75L417.3 499.75Z" fill="#a22c42"/>
<path d="M446 465.95L452.8 465.95L449.4 471.85Z" fill="#a22c42"/>
<path d="M453.4 467.45L460.2 467.45L456.8 473.35Z" fill="#a22c42"/>
<path d="M460.9 463.85L467.7 463.85L464.3 469.75Z" fill="#a22c42"/>
<path d="M444.8 480.95L451.6 480.95L448.2 486.85Z" fill="#a22c42"/>
<path d="M449.1 483.05L455.9 483.05L452.5 488.95Z" fill="#a22c42"/>
<path d="M453.4 486.25L460.2 486.25L456.8 492.15Z" fill="#a22c42"/>
<path d="M458.1 483.05L464.9 483.05L461.5 488.95Z" fill="#a22c42"/>
<path d="M462.1 481.95L468.9 481.95L465.5 487.85Z" fill="#a22c42"/>
<path d="M492.7 481.35L495.65 484.3L492.7 487.25L489.75 484.3Z" fill="#a22c42"/>
<path d="M489.3 489.95L492.25 492.9L489.3 495.85L486.35 492.9Z" fill="#a22c42"/>
<path d="M496.6 494.05L499.55 497L496.6 499.95L493.65 497Z" fill="#a22c42"/>
<path d="M485.6 499.95L488.55 502.9L485.6 505.85L482.65 502.9Z" fill="#a22c42"/>
<path d="M500.1 499.95L503.05 502.9L500.1 505.85L497.15 502.9Z" fill="#a22c42"/>
<path d="M492.7 503.05L495.65 506L492.7 508.95L489.75 506Z" fill="#a22c42"/>
<line x1="344.9" y1="349.3" x2="419.4" y2="349.3" stroke="#3a3a3a" stroke-width="1.3"/>
<line x1="344.9" y1="344.1" x2="344.9" y2="354.5" stroke="#3a3a3a" stroke-width="1.2"/>
<line x1="419.4" y1="344.1" x2="419.4" y2="354.5" stroke="#3a3a3a" stroke-width="1.2"/>
<text x="382.55" y="346.1" font-size="9.8" text-anchor="middle" fill="#222" letter-spacing="0.75">***</text>
<text x="0" y="0" font-size="13.4" text-anchor="start" fill="#111" transform="translate(10.4,559.8) scale(0.87,1)" >F</text>
<text x="0" y="0" font-size="9.7" text-anchor="middle" fill="#1a1a1a" transform="translate(37.3,639.4) rotate(-90) scale(0.933,1)">LKS+ CD48- CD150+ cells / mL blood</text>
<line x1="57.9" y1="721.6" x2="61.5" y2="721.6" stroke="#222" stroke-width="1.2"/>
<text x="0" y="0" font-size="7.3" text-anchor="end" fill="#222" transform="translate(54.4,724.45) scale(0.895,1)" >0</text>
<line x1="57.9" y1="689.52" x2="61.5" y2="689.52" stroke="#222" stroke-width="1.2"/>
<text x="0" y="0" font-size="7.3" text-anchor="end" fill="#222" transform="translate(54.4,692.37) scale(0.895,1)" >50</text>
<line x1="57.9" y1="657.44" x2="61.5" y2="657.44" stroke="#222" stroke-width="1.2"/>
<text x="0" y="0" font-size="7.3" text-anchor="end" fill="#222" transform="translate(54.4,660.29) scale(0.895,1)" >100</text>
<line x1="57.9" y1="625.36" x2="61.5" y2="625.36" stroke="#222" stroke-width="1.2"/>
<text x="0" y="0" font-size="7.3" text-anchor="end" fill="#222" transform="translate(54.4,628.21) scale(0.895,1)" >150</text>
<line x1="57.9" y1="593.28" x2="61.5" y2="593.28" stroke="#222" stroke-width="1.2"/>
<text x="0" y="0" font-size="7.3" text-anchor="end" fill="#222" transform="translate(54.4,596.13) scale(0.895,1)" >200</text>
<line x1="57.9" y1="561.2" x2="61.5" y2="561.2" stroke="#222" stroke-width="1.2"/>
<text x="0" y="0" font-size="7.3" text-anchor="end" fill="#222" transform="translate(54.4,564.05) scale(0.895,1)" >250</text>
<line x1="79.6" y1="721.6" x2="79.6" y2="725.2" stroke="#222" stroke-width="1.2"/>
<line x1="115.9" y1="721.6" x2="115.9" y2="725.2" stroke="#222" stroke-width="1.2"/>
<line x1="152.3" y1="721.6" x2="152.3" y2="725.2" stroke="#222" stroke-width="1.2"/>
<line x1="188.4" y1="721.6" x2="188.4" y2="725.2" stroke="#222" stroke-width="1.2"/>
<line x1="224.6" y1="721.6" x2="224.6" y2="725.2" stroke="#222" stroke-width="1.2"/>
<text x="0" y="0" font-size="7.5" text-anchor="middle" fill="#222" transform="translate(79.6,735.4) scale(0.89,1)" >G+IgG</text>
<text x="0" y="0" font-size="7.5" text-anchor="middle" fill="#222" transform="translate(115.9,735.4) scale(0.89,1)" >G+DC</text>
<text x="0" y="0" font-size="7.5" text-anchor="middle" fill="#222" transform="translate(152.3,735.4) scale(0.895,1)" >G+F+</text>
<text x="0" y="0" font-size="7.5" text-anchor="middle" fill="#222" transform="translate(152.3,744.4) scale(0.87,1)" >IgG</text>
<text x="0" y="0" font-size="7.5" text-anchor="middle" fill="#222" transform="translate(188.4,735.4) scale(0.89,1)" >G+F+DC</text>
<text x="0" y="0" font-size="7.5" text-anchor="middle" fill="#222" transform="translate(224.6,735.4) scale(0.89,1)" >V</text>
<line x1="61.5" y1="558.3" x2="61.5" y2="722.35" stroke="#111" stroke-width="1.5"/>
<line x1="60.75" y1="721.6" x2="243.1" y2="721.6" stroke="#111" stroke-width="1.5"/>
<line x1="79.6" y1="657.5" x2="79.6" y2="707" stroke="#3a3a3a" stroke-width="1.15"/>
<line x1="73.5" y1="657.5" x2="85.7" y2="657.5" stroke="#333" stroke-width="1.1"/>
<line x1="73.5" y1="707" x2="85.7" y2="707" stroke="#333" stroke-width="1.1"/>
<line x1="67.5" y1="682.7" x2="91.7" y2="682.7" stroke="#222" stroke-width="1.5"/>
<line x1="115.9" y1="649.2" x2="115.9" y2="716.7" stroke="#3a3a3a" stroke-width="1.15"/>
<line x1="109.8" y1="649.2" x2="122" y2="649.2" stroke="#333" stroke-width="1.1"/>
<line x1="109.8" y1="716.7" x2="122" y2="716.7" stroke="#333" stroke-width="1.1"/>
<line x1="103.8" y1="682.8" x2="128" y2="682.8" stroke="#222" stroke-width="1.5"/>
<line x1="152.3" y1="595.8" x2="152.3" y2="690.5" stroke="#3a3a3a" stroke-width="1.15"/>
<line x1="146.2" y1="595.8" x2="158.4" y2="595.8" stroke="#333" stroke-width="1.1"/>
<line x1="146.2" y1="690.5" x2="158.4" y2="690.5" stroke="#333" stroke-width="1.1"/>
<line x1="140.2" y1="643.5" x2="164.4" y2="643.5" stroke="#222" stroke-width="1.5"/>
<line x1="188.4" y1="638.5" x2="188.4" y2="708" stroke="#3a3a3a" stroke-width="1.15"/>
<line x1="182.3" y1="638.5" x2="194.5" y2="638.5" stroke="#333" stroke-width="1.1"/>
<line x1="182.3" y1="708" x2="194.5" y2="708" stroke="#333" stroke-width="1.1"/>
<line x1="176.3" y1="673.5" x2="200.5" y2="673.5" stroke="#222" stroke-width="1.5"/>
<line x1="224.6" y1="721.5" x2="224.6" y2="721.5" stroke="#3a3a3a" stroke-width="1.15"/>
<line x1="218.5" y1="721.5" x2="230.7" y2="721.5" stroke="#333" stroke-width="1.1"/>
<line x1="218.5" y1="721.5" x2="230.7" y2="721.5" stroke="#333" stroke-width="1.1"/>
<line x1="212.5" y1="721.5" x2="236.7" y2="721.5" stroke="#222" stroke-width="1.5"/>
<circle cx="79.5" cy="645" r="2.95" fill="#a22c42"/>
<circle cx="79.5" cy="653.9" r="2.95" fill="#a22c42"/>
<circle cx="79.5" cy="668.3" r="2.95" fill="#a22c42"/>
<circle cx="79.5" cy="687.1" r="2.95" fill="#a22c42"/>
<circle cx="83.1" cy="690.5" r="2.95" fill="#a22c42"/>
<circle cx="75.9" cy="696.3" r="2.95" fill="#a22c42"/>
<circle cx="79.5" cy="705.7" r="2.95" fill="#a22c42"/>
<circle cx="79.5" cy="713.8" r="2.95" fill="#a22c42"/>
<rect x="112.8" y="626.2" width="6.0" height="6.0" fill="#a22c42"/>
<rect x="105.7" y="655.4" width="6.0" height="6.0" fill="#a22c42"/>
<rect x="112.6" y="659.2" width="6.0" height="6.0" fill="#a22c42"/>
<rect x="119.9" y="659.2" width="6.0" height="6.0" fill="#a22c42"/>
<rect x="109.2" y="701.6" width="6.0" height="6.0" fill="#a22c42"/>
<rect x="116.5" y="705" width="6.0" height="6.0" fill="#a22c42"/>
<rect x="116.6" y="713" width="6.0" height="6.0" fill="#a22c42"/>
<rect x="109.2" y="719.1" width="6.0" height="6.0" fill="#a22c42"/>
<path d="M152.3 574.75L155.7 580.65L148.9 580.65Z" fill="#a22c42"/>
<path d="M152.3 586.05L155.7 591.95L148.9 591.95Z" fill="#a22c42"/>
<path d="M152.3 619.15L155.7 625.05L148.9 625.05Z" fill="#a22c42"/>
<path d="M152.3 654.35L155.7 660.25L148.9 660.25Z" fill="#a22c42"/>
<path d="M148.5 677.25L151.9 683.15L145.1 683.15Z" fill="#a22c42"/>
<path d="M155.8 679.05L159.2 684.95L152.4 684.95Z" fill="#a22c42"/>
<path d="M152.3 692.85L155.7 698.75L148.9 698.75Z" fill="#a22c42"/>
<path d="M185.1 607.35L191.9 607.35L188.5 613.25Z" fill="#a22c42"/>
<path d="M185.1 635.55L191.9 635.55L188.5 641.45Z" fill="#a22c42"/>
<path d="M181.2 665.05L188 665.05L184.6 670.95Z" fill="#a22c42"/>
<path d="M188.4 669.55L195.2 669.55L191.8 675.45Z" fill="#a22c42"/>
<path d="M184.8 677.95L191.6 677.95L188.2 683.85Z" fill="#a22c42"/>
<path d="M181.2 694.05L188 694.05L184.6 699.95Z" fill="#a22c42"/>
<path d="M188.6 700.15L195.4 700.15L192 706.05Z" fill="#a22c42"/>
<path d="M185.1 712.45L191.9 712.45L188.5 718.35Z" fill="#a22c42"/>
<path d="M218.7 718.65L221.65 721.6L218.7 724.55L215.75 721.6Z" fill="#a22c42"/>
<path d="M221.6 718.65L224.55 721.6L221.6 724.55L218.65 721.6Z" fill="#a22c42"/>
<path d="M224.3 718.65L227.25 721.6L224.3 724.55L221.35 721.6Z" fill="#a22c42"/>
<path d="M227.3 718.65L230.25 721.6L227.3 724.55L224.35 721.6Z" fill="#a22c42"/>
<path d="M229.8 718.65L232.75 721.6L229.8 724.55L226.85 721.6Z" fill="#a22c42"/>
<path d="M228.1 717.65L231.05 720.6L228.1 723.55L225.15 720.6Z" fill="#a22c42"/>
<line x1="76.3" y1="568.4" x2="150.8" y2="568.4" stroke="#3a3a3a" stroke-width="1.3"/>
<line x1="76.3" y1="563.2" x2="76.3" y2="573.6" stroke="#3a3a3a" stroke-width="1.2"/>
<line x1="150.8" y1="563.2" x2="150.8" y2="573.6" stroke="#3a3a3a" stroke-width="1.2"/>
<text x="113.55" y="563.8" font-size="7.0" text-anchor="middle" fill="#333" >p=0.107</text>
<text x="0" y="0" font-size="13.4" text-anchor="start" fill="#111" transform="translate(262.4,559.7) scale(0.88,1)" >G</text>
<text x="0" y="0" font-size="9.7" text-anchor="middle" fill="#1a1a1a" transform="translate(294.9,639.75) rotate(-90) scale(0.926,1)">LKS+ CD48- CD150+ cells / spleen</text>
<line x1="326.6" y1="721.4" x2="330.2" y2="721.4" stroke="#222" stroke-width="1.2"/>
<text x="0" y="0" font-size="7.3" text-anchor="end" fill="#222" transform="translate(323.1,724.25) scale(0.895,1)" >0</text>
<line x1="326.6" y1="681.35" x2="330.2" y2="681.35" stroke="#222" stroke-width="1.2"/>
<text x="0" y="0" font-size="7.3" text-anchor="end" fill="#222" transform="translate(323.1,684.2) scale(0.895,1)" >10000</text>
<line x1="326.6" y1="641.3" x2="330.2" y2="641.3" stroke="#222" stroke-width="1.2"/>
<text x="0" y="0" font-size="7.3" text-anchor="end" fill="#222" transform="translate(323.1,644.15) scale(0.895,1)" >20000</text>
<line x1="326.6" y1="601.25" x2="330.2" y2="601.25" stroke="#222" stroke-width="1.2"/>
<text x="0" y="0" font-size="7.3" text-anchor="end" fill="#222" transform="translate(323.1,604.1) scale(0.895,1)" >30000</text>
<line x1="326.6" y1="561.2" x2="330.2" y2="561.2" stroke="#222" stroke-width="1.2"/>
<text x="0" y="0" font-size="7.3" text-anchor="end" fill="#222" transform="translate(323.1,564.05) scale(0.895,1)" >40000</text>
<line x1="348.3" y1="721.4" x2="348.3" y2="725" stroke="#222" stroke-width="1.2"/>
<line x1="384.2" y1="721.4" x2="384.2" y2="725" stroke="#222" stroke-width="1.2"/>
<line x1="420.6" y1="721.4" x2="420.6" y2="725" stroke="#222" stroke-width="1.2"/>
<line x1="456.8" y1="721.4" x2="456.8" y2="725" stroke="#222" stroke-width="1.2"/>
<line x1="492.8" y1="721.4" x2="492.8" y2="725" stroke="#222" stroke-width="1.2"/>
<text x="0" y="0" font-size="7.5" text-anchor="middle" fill="#222" transform="translate(348.3,735.2) scale(0.89,1)" >G+IgG</text>
<text x="0" y="0" font-size="7.5" text-anchor="middle" fill="#222" transform="translate(384.2,735.2) scale(0.89,1)" >G+DC</text>
<text x="0" y="0" font-size="7.5" text-anchor="middle" fill="#222" transform="translate(420.6,735.2) scale(0.895,1)" >G+F+</text>
<text x="0" y="0" font-size="7.5" text-anchor="middle" fill="#222" transform="translate(420.6,744.2) scale(0.87,1)" >IgG</text>
<text x="0" y="0" font-size="7.5" text-anchor="middle" fill="#222" transform="translate(456.8,735.2) scale(0.89,1)" >G+F+DC</text>
<text x="0" y="0" font-size="7.5" text-anchor="middle" fill="#222" transform="translate(492.8,735.2) scale(0.89,1)" >V</text>
<line x1="330.2" y1="558.3" x2="330.2" y2="722.15" stroke="#111" stroke-width="1.5"/>
<line x1="329.45" y1="721.4" x2="511.7" y2="721.4" stroke="#111" stroke-width="1.5"/>
<line x1="348.3" y1="693.2" x2="348.3" y2="718.3" stroke="#3a3a3a" stroke-width="1.15"/>
<line x1="342.2" y1="693.2" x2="354.4" y2="693.2" stroke="#333" stroke-width="1.1"/>
<line x1="342.2" y1="718.3" x2="354.4" y2="718.3" stroke="#333" stroke-width="1.1"/>
<line x1="336.2" y1="705.8" x2="360.4" y2="705.8" stroke="#222" stroke-width="1.5"/>
<line x1="384.2" y1="701.5" x2="384.2" y2="717.2" stroke="#3a3a3a" stroke-width="1.15"/>
<line x1="378.1" y1="701.5" x2="390.3" y2="701.5" stroke="#333" stroke-width="1.1"/>
<line x1="378.1" y1="717.2" x2="390.3" y2="717.2" stroke="#333" stroke-width="1.1"/>
<line x1="372.1" y1="709.4" x2="396.3" y2="709.4" stroke="#222" stroke-width="1.5"/>
<line x1="420.6" y1="604.6" x2="420.6" y2="700.3" stroke="#3a3a3a" stroke-width="1.15"/>
<line x1="414.5" y1="604.6" x2="426.7" y2="604.6" stroke="#333" stroke-width="1.1"/>
<line x1="414.5" y1="700.3" x2="426.7" y2="700.3" stroke="#333" stroke-width="1.1"/>
<line x1="408.5" y1="652.6" x2="432.7" y2="652.6" stroke="#222" stroke-width="1.5"/>
<line x1="456.8" y1="686.2" x2="456.8" y2="709.5" stroke="#3a3a3a" stroke-width="1.15"/>
<line x1="450.7" y1="686.2" x2="462.9" y2="686.2" stroke="#333" stroke-width="1.1"/>
<line x1="450.7" y1="709.5" x2="462.9" y2="709.5" stroke="#333" stroke-width="1.1"/>
<line x1="444.7" y1="697.7" x2="468.9" y2="697.7" stroke="#222" stroke-width="1.5"/>
<line x1="492.8" y1="712.8" x2="492.8" y2="720.5" stroke="#3a3a3a" stroke-width="1.15"/>
<line x1="486.7" y1="712.8" x2="498.9" y2="712.8" stroke="#333" stroke-width="1.1"/>
<line x1="486.7" y1="720.5" x2="498.9" y2="720.5" stroke="#333" stroke-width="1.1"/>
<line x1="480.7" y1="716.6" x2="504.9" y2="716.6" stroke="#222" stroke-width="1.5"/>
<circle cx="348.2" cy="683.1" r="2.95" fill="#a22c42"/>
<circle cx="348.2" cy="693.4" r="2.95" fill="#a22c42"/>
<circle cx="344.5" cy="701" r="2.95" fill="#a22c42"/>
<circle cx="351.5" cy="708" r="2.95" fill="#a22c42"/>
<circle cx="357.2" cy="711.5" r="2.95" fill="#a22c42"/>
<circle cx="338.7" cy="714.2" r="2.95" fill="#a22c42"/>
<circle cx="350.9" cy="715.6" r="2.95" fill="#a22c42"/>
<circle cx="344.8" cy="718.3" r="2.95" fill="#a22c42"/>
<rect x="381.2" y="692.3" width="6.0" height="6.0" fill="#a22c42"/>
<rect x="381.2" y="699.8" width="6.0" height="6.0" fill="#a22c42"/>
<rect x="370.3" y="705.7" width="6.0" height="6.0" fill="#a22c42"/>
<rect x="388.9" y="705.2" width="6.0" height="6.0" fill="#a22c42"/>
<rect x="373.8" y="709.9" width="6.0" height="6.0" fill="#a22c42"/>
<rect x="381.2" y="707.9" width="6.0" height="6.0" fill="#a22c42"/>
<rect x="381.2" y="714.9" width="6.0" height="6.0" fill="#a22c42"/>
<rect x="388.6" y="714.9" width="6.0" height="6.0" fill="#a22c42"/>
<path d="M420.7 572.45L424.1 578.35L417.3 578.35Z" fill="#a22c42"/>
<path d="M420.7 590.95L424.1 596.85L417.3 596.85Z" fill="#a22c42"/>
<path d="M420.7 627.05L424.1 632.95L417.3 632.95Z" fill="#a22c42"/>
<path d="M420.7 659.95L424.1 665.85L417.3 665.85Z" fill="#a22c42"/>
<path d="M424.2 675.35L427.6 681.25L420.8 681.25Z" fill="#a22c42"/>
<path d="M416.8 679.35L420.2 685.25L413.4 685.25Z" fill="#a22c42"/>
<path d="M420.7 690.45L424.1 696.35L417.3 696.35Z" fill="#a22c42"/>
<path d="M420.7 702.35L424.1 708.25L417.3 708.25Z" fill="#a22c42"/>
<path d="M453.4 678.85L460.2 678.85L456.8 684.75Z" fill="#a22c42"/>
<path d="M457.4 683.45L464.2 683.45L460.8 689.35Z" fill="#a22c42"/>
<path d="M449.8 688.05L456.6 688.05L453.2 693.95Z" fill="#a22c42"/>
<path d="M444.2 695.35L451 695.35L447.6 701.25Z" fill="#a22c42"/>
<path d="M462.4 697.25L469.2 697.25L465.8 703.15Z" fill="#a22c42"/>
<path d="M449.8 699.55L456.6 699.55L453.2 705.45Z" fill="#a22c42"/>
<path d="M456.2 699.55L463 699.55L459.6 705.45Z" fill="#a22c42"/>
<path d="M453.4 717.25L460.2 717.25L456.8 723.15Z" fill="#a22c42"/>
<path d="M493 707.35L495.95 710.3L493 713.25L490.05 710.3Z" fill="#a22c42"/>
<path d="M484.5 713.45L487.45 716.4L484.5 719.35L481.55 716.4Z" fill="#a22c42"/>
<path d="M488.8 714.15L491.75 717.1L488.8 720.05L485.85 717.1Z" fill="#a22c42"/>
<path d="M501.5 713.45L504.45 716.4L501.5 719.35L498.55 716.4Z" fill="#a22c42"/>
<path d="M493.1 718.05L496.05 721L493.1 723.95L490.15 721Z" fill="#a22c42"/>
<path d="M497.5 717.75L500.45 720.7L497.5 723.65L494.55 720.7Z" fill="#a22c42"/>
<line x1="344.9" y1="562.5" x2="419.4" y2="562.5" stroke="#3a3a3a" stroke-width="1.3"/>
<line x1="344.9" y1="557.3" x2="344.9" y2="567.7" stroke="#3a3a3a" stroke-width="1.2"/>
<line x1="419.4" y1="557.3" x2="419.4" y2="567.7" stroke="#3a3a3a" stroke-width="1.2"/>
<text x="382.55" y="561.8" font-size="9.8" text-anchor="middle" fill="#222" letter-spacing="0.75">***</text>
<rect x="0" y="1" width="520" height="1" fill="#c8c8c8"/>
<rect x="1" y="0" width="1" height="756" fill="#8e8e8e"/>
<rect x="518" y="0" width="1" height="756" fill="#828282"/>
<rect x="0" y="0" width="520" height="1" fill="#050505"/>
<rect x="0" y="0" width="1" height="756" fill="#050505"/>
<rect x="519" y="0" width="1" height="756" fill="#050505"/>
<rect x="0" y="754" width="520" height="2" fill="#5a5a5a"/>
</svg>
</body></html>
